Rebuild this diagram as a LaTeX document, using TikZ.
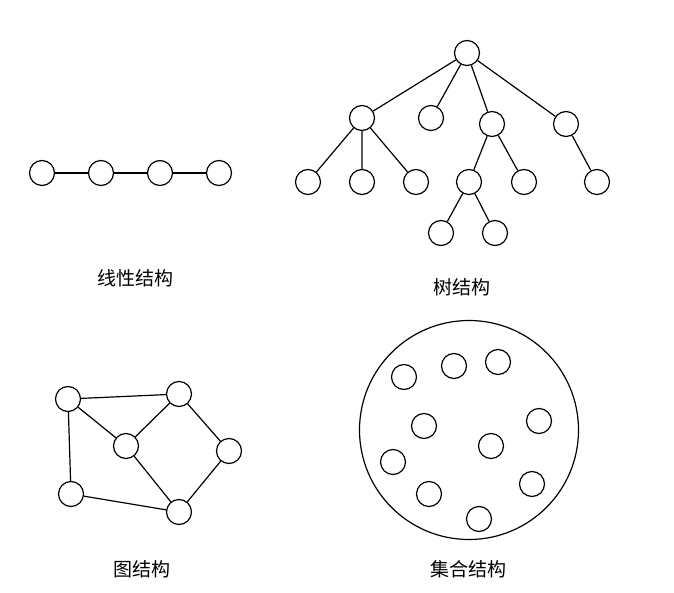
\documentclass[tikz,border=0pt]{standalone}
\usepackage{fontspec}
\newfontfamily\cjk{Noto Sans CJK SC}
\begin{document}
\begin{tikzpicture}[x=1pt,y=-1pt,
  dot/.style={circle,draw,line width=1.2pt,minimum size=25pt,inner sep=0pt,fill=white},
  edge/.style={line width=1.2pt},
  lbl/.style={font=\cjk\fontsize{19}{19}\selectfont,inner sep=0pt}]
\useasboundingbox (0,0) rectangle (674,593);
% linear
\node[dot] (l1) at (42,173) {};
\node[dot] (l2) at (101,173) {};
\node[dot] (l3) at (160,173) {};
\node[dot] (l4) at (219,173) {};
\draw[edge] (l1)--(l2) (l2)--(l3) (l3)--(l4);
\node[lbl] (ll) at (135,278) {线性结构};
% tree
\node[dot] (r) at (467,53) {};
\node[dot] (a) at (362,118) {};
\node[dot] (b) at (431,118) {};
\node[dot] (c) at (492,124) {};
\node[dot] (d) at (566,124) {};
\node[dot] (a1) at (308,182) {};
\node[dot] (a2) at (362,182) {};
\node[dot] (a3) at (416,182) {};
\node[dot] (c1) at (469,182) {};
\node[dot] (c2) at (524,182) {};
\node[dot] (d1) at (597,182) {};
\node[dot] (e1) at (441,233) {};
\node[dot] (e2) at (495,233) {};
\draw[edge] (r)--(a) (r)--(b) (r)--(c) (r)--(d)
  (a)--(a1) (a)--(a2) (a)--(a3)
  (c)--(c1) (c)--(c2) (d)--(d1)
  (c1)--(e1) (c1)--(e2);
\node[lbl] (tl) at (462,287) {树结构};
% graph
\node[dot] (g1) at (68,399) {};
\node[dot] (g2) at (179,394) {};
\node[dot] (g3) at (126,446) {};
\node[dot] (g4) at (229,451) {};
\node[dot] (g5) at (71,494) {};
\node[dot] (g6) at (179,512) {};
\draw[edge] (g1)--(g2) (g1)--(g3) (g1)--(g5) (g2)--(g3) (g2)--(g4)
  (g3)--(g6) (g4)--(g6) (g5)--(g6);
\node[lbl] (gl) at (142,569) {图结构};
% set
\node[circle,draw,line width=1.2pt,minimum size=219pt,inner sep=0pt] (S) at (469,430) {};
\node[dot] (s1) at (404,377) {};
\node[dot] (s2) at (454,366) {};
\node[dot] (s3) at (498,362) {};
\node[dot] (s4) at (424,426) {};
\node[dot] (s5) at (539,421) {};
\node[dot] (s6) at (491,446) {};
\node[dot] (s7) at (393,462) {};
\node[dot] (s8) at (429,494) {};
\node[dot] (s9) at (532,484) {};
\node[dot] (s10) at (479,519) {};
\node[lbl] (sl) at (468,569) {集合结构};
\end{tikzpicture}
\end{document}
